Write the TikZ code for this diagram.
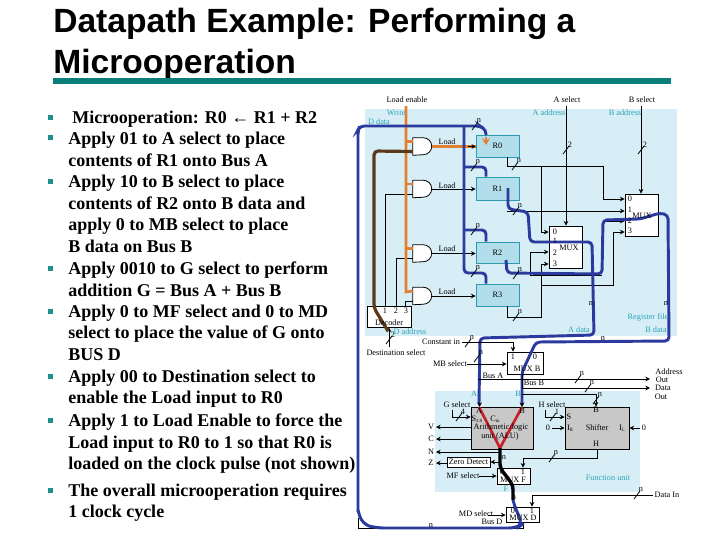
\documentclass[tikz,border=0pt]{standalone}
\usepackage{fontspec}
\setmainfont{Liberation Serif}
\newfontfamily\titlefont{Liberation Sans}
\usetikzlibrary{arrows.meta}
\definecolor{panelc}{HTML}{D8EEF6}
\definecolor{regc}{HTML}{B2DDEA}
\definecolor{regb}{HTML}{2E9AB0}
\definecolor{rulec}{HTML}{0A7F7A}
\definecolor{bullc}{HTML}{1E9090}
\definecolor{cyanc}{HTML}{2BA3B5}
\definecolor{busc}{HTML}{2B3A9E}
\definecolor{brownc}{HTML}{5A3A1A}
\definecolor{orangec}{HTML}{E08030}
\definecolor{redc}{HTML}{C8202A}
\definecolor{greyc}{HTML}{C8C8C8}
\newcommand\sbs[1]{\raisebox{-1pt}{\fontsize{3.6}{4}\selectfont #1}}
\newcommand\slashmark[4]{\draw[wire] (#2+3,#3-4) -- (#2-3,#3+4);\node[lab] (#1) at (#2+4,#3-5) {#4};}
\newcommand\andgate[3]{\node[px={19}{17}] (#1) at (#2,#3) {};
 \draw[wire,fill=white] (#1.north west) -- ++(10.5,0) arc (90:-90:6.375pt) -- (#1.south west) -- cycle;
 \coordinate (#1i1) at ([yshift=3.75pt]#1.west);
 \coordinate (#1i2) at ([yshift=-3.75pt]#1.west);}
\tikzset{
 px/.style 2 args={minimum width=#1*0.75pt,minimum height=#2*0.75pt,inner sep=0pt},
 reg/.style={draw=regb,fill=regc,line width=0.6pt,font=\fontsize{6.2}{7}\selectfont},
 blk/.style={draw=black,fill=white,line width=0.6pt},
 alu/.style={draw=black,fill=greyc,line width=0.6pt},
 lab/.style={inner sep=0pt,font=\fontsize{6.2}{7}\selectfont},
 cy/.style={lab,text=cyanc},
 wire/.style={draw=black,line width=0.6pt},
 awire/.style={wire,-{Stealth[length=3.5pt,width=3.5pt]}},
 bus/.style={draw=busc,line width=2.2pt,rounded corners=3pt},
 bodyt/.style={anchor=base west,inner sep=0pt,font=\fontsize{13.5}{15}\selectfont\bfseries},
 titlet/.style={anchor=base west,inner sep=0pt,font=\titlefont\fontsize{25.2}{28}\selectfont\bfseries},
 bull/.style={fill=bullc,draw=none,px={5}{5}},
}
\begin{document}
\begin{tikzpicture}[x=0.75pt,y=-0.75pt]
\useasboundingbox[fill=white] (0,0) rectangle (720,540);
% title
\node[titlet] (t1) at (53,32) {Datapath Example: Performing a};
\node[titlet] (t2) at (53,73) {Microoperation};
\fill[rulec] (53,78) rectangle (671,84);
% bullets
\foreach \y [count=\k] in {117,137,181,268,311,376,420,490} \node[bull] (bu\k) at (50,\y) {};
\node[bodyt] (b0) at (72,123) {Microoperation: R0 ← R1 + R2};
\foreach \y/\t [count=\k] in {
144/{Apply 01 to A select to place},
166/{contents of R1 onto Bus A},
187/{Apply 10 to B select to place},
209/{contents of R2 onto B data and},
230/{apply 0 to MB select to place},
252/{B data on Bus B},
274/{Apply 0010 to G select to perform},
296/{addition  G = Bus A + Bus B},
317/{Apply 0 to MF select and 0 to MD},
338/{select to place the value of G onto},
360/{BUS D},
382/{Apply 00 to Destination select to},
403/{enable the Load input to R0},
426/{Apply 1 to Load Enable to force the},
448/{Load input to R0 to 1 so that R0 is},
469/{loaded on the clock pulse (not shown)},
496/{The overall microoperation requires},
517/{1 clock cycle}}
 \node[bodyt] (b\k) at (68,\y) {\t};
% panels
\fill[panelc] (365,109) rectangle (677,336);
\fill[panelc] (435,391) rectangle (640,492);
% coordinates
\coordinate (lvtop) at (406,106);
\coordinate (lvbot) at (406,292);
\coordinate (dtop) at (464,126);
\coordinate (asel) at (566,106);
\coordinate (bsel) at (641,106);
\coordinate (dsel) at (389,347);
\coordinate (cin) at (462,342);
\coordinate (mbs) at (467,364);
\coordinate (mfs) at (479,476);
\coordinate (mds) at (488,515);
\coordinate (addro) at (650,379);
\coordinate (datao) at (650,388);
\coordinate (datai) at (653,495);
\coordinate (vend) at (436,427);
\coordinate (cend) at (436,439);
\coordinate (nend) at (436,452);
\coordinate (zend) at (436,463);
% boxes
\node[reg,px={43}{22}] (r0) at (497.5,146) {R0};
\node[reg,px={43}{23}] (r1) at (497.5,188.5) {R1};
\node[reg,px={43}{21}] (r2) at (497.5,252.5) {R2};
\node[reg,px={43}{22}] (r3) at (497.5,295) {R3};
\andgate{g0}{422.5}{146.5}
\andgate{g1}{422.5}{189}
\andgate{g2}{422.5}{253.5}
\andgate{g3}{422.5}{296}
\node[blk,px={44}{21}] (dec) at (389,316.5) {};
\node[blk,px={33}{42}] (m2) at (565.5,247) {};
\node[blk,px={33}{42}] (m1) at (641.5,215) {};
\node[blk,px={36}{22}] (mb) at (525,363) {};
\node[alu,px={62}{42}] (aluu) at (502,428) {};
\node[alu,px={64}{42}] (sh) at (597,428) {};
\node[blk,px={43}{10}] (zd) at (468.5,462) {};
\node[blk,px={33}{16}] (mf) at (513.5,476) {};
\node[blk,px={33}{15}] (md) at (522.5,514.5) {};
% thin wires register file
\draw[awire] (r0.south -| 507,0) -- (507,166) -- (603,166) -- (603,199) -- (m1.west |- 0,199);
\draw[awire] (541,166) -- (541,232) -- (m2.west |- 0,232);
\draw[awire] (507,211) -- (m1.west |- 0,211);
\draw[awire] (530,275) -- (530,252) -- (m2.west |- 0,252);
\draw[awire] (603,221) -- (m1.west |- 0,221);
\draw[wire] (530,275) -- (602,275);
\draw[wire] (r3.south -| 507,0) -- (507,317) -- (541,317) -- (541,264);
\draw[awire] (541,264) -- (m2.west |- 0,264);
\draw[awire] (541,285) -- (613,285) -- (613,232) -- (m1.west |- 0,232);
\draw[awire] (asel) -- (m2.north -| 566,0);
\draw[awire] (bsel) -- (m1.north -| 641,0);
\slashmark{s2a}{566}{150}{2}
\slashmark{s2b}{641}{150}{2}
\draw[wire] (dec.north -| 385,0) |- (g1i2);
\draw[wire] (dec.north -| 396,0) |- (g2i2);
\draw[wire] (dec.north -| 405,0) |- (g3i2);
\draw[awire] (dsel) -- (dec.south -| 389,0);
\slashmark{s2d}{389}{340}{2}
\draw[awire] (g1.east) -- (r1.west |- g1.east);
\draw[awire] (g2.east) -- (r2.west |- g2.east);
\draw[awire] (g3.east) -- (r3.west |- g3.east);
% load enable
\draw[orangec,line width=2pt] (lvtop) -- (lvbot) -- (g3i1);
\draw[orangec,line width=1.6pt] (g0i1 -| lvtop) -- (g0i1);
\draw[orangec,line width=1.6pt] (g1i1 -| lvtop) -- (g1i1);
\draw[orangec,line width=1.6pt] (g2i1 -| lvtop) -- (g2i1);
\draw[orangec,line width=1.8pt] (g0.east) -- (r0.west |- g0.east);
\draw[-{Stealth[length=3pt,width=3.5pt]},wire] (468,146.5) -- (r0.west |- 0,146.5);
% brown
\draw[brownc,line width=2.4pt,rounded corners=3pt] (g0i2) -- (374,151) -- (374,308) -- (388,331);
% data buses
\draw[bus] (358,512) -- (358,130) -- (360,126) -- (480,126) -- (486,130) -- (486,135);
\draw[-{Stealth[length=5pt,width=6pt]},orangec,line width=1.5pt] (486,137) -- (486,145);
\draw[bus] (dtop) -- (464,273) -- (486,273) -- (r3.north -| 486,0);
\draw[bus] (464,167) -- (486,167) -- (r1.north -| 486,0);
\draw[bus] (464,230) -- (486,230) -- (r2.north -| 486,0);
\draw[bus] (508,188) -- (508,209) -- (528,212) -- (530,242) -- (592,242) -- (594,335) -- (480,338) -- (479,403);
\draw[bus] (506,260) -- (507,273) -- (602,274) -- (603,220) -- (640,219) -- (660,213) -- (668,215) -- (669,341) -- (536,342) -- (522,372) -- (522,405);
% mux B and below
\draw[awire] (cin) -- (513,342) -- (mb.north -| 513,0);
\draw[awire] (mbs) -- (mb.west |- mbs);
\draw[awire] (478,379) -- (addro);
\draw[awire] (522,388) -- (datao);
\draw[awire] (522,394) -- (596,394) -- (sh.north -| 596,0);
\draw[wire] (522,374) -- (522,388);
\slashmark{s1}{468}{343}{n}
\slashmark{s1b}{477}{358}{n}
\slashmark{s3}{578}{379}{n}
\slashmark{s4}{588}{388}{n}
\slashmark{s5}{596}{400}{n}
% function unit
\draw[wire] (452,410) -- (452,417);
\draw[awire] (452,417) -- (aluu.west |- 0,417);
\slashmark{s6}{459}{417}{4}
\draw[wire] (545,410) -- (545,417);
\draw[awire] (545,417) -- (sh.west |- 0,417);
\slashmark{s7}{553}{417}{1}
\draw[awire] (552,428) -- (sh.west |- 0,428);
\draw[awire] (640,428) -- (sh.east |- 0,428);
\draw[awire] (aluu.west |- vend) -- (vend);
\draw[awire] (aluu.west |- cend) -- (cend);
\draw[awire] (500,452) -- (nend);
\draw[awire] (zd.west |- zend) -- (zend);
\draw[awire] (500,462) -- (zd.east);
\draw[awire] (sh.south -| 597,0) -- (597,458) -- (523,458) -- (mf.north -| 523,0);
\slashmark{s8}{552}{458}{n}
\draw[awire] (mfs) -- (mf.west);
\draw[awire] (mds) -- (md.west |- mds);
\draw[awire] (datai) -- (532,495) -- (md.north -| 532,0);
\slashmark{s9}{637}{495}{n}
\draw[wire] (md.south -| 523,0) -- (523,528) -- (358,528) -- (358,518);
% red, black, D bus
\draw[redc,line width=2pt] (479,407) -- (500,448) -- (522,407);
\draw[-{Stealth[length=3.5pt,width=3.5pt]},wire] (479.5,403) -- (479.5,407);
\draw[-{Stealth[length=3.5pt,width=3.5pt]},wire] (522,403) -- (522,407);
\draw[black,line width=2.6pt,rounded corners=3pt] (500,448) -- (500,468) -- (513,485) -- (513,500);
\draw[bus,rounded corners=6pt] (513,500) -- (515,508) -- (523,524) -- (517,528) -- (376,528) -- (362,524) -- (358,510);
% labels top
\node[lab] (lLE) at (407,100) {Load enable};
\node[lab] (lAS) at (567,100) {A select};
\node[lab] (lBS) at (642,100) {B select};
\node[cy] (lW) at (396,113) {Write};
\node[cy] (lDd) at (379,122) {D data};
\node[cy] (lAa) at (549,113) {A address};
\node[cy] (lBa) at (625,113) {B address};
\node[lab] (ll0) at (447,142) {Load};
\node[lab] (ll1) at (447,186) {Load};
\node[lab] (ll2) at (447,249) {Load};
\node[lab] (ll3) at (447,292) {Load};
\slashmark{s10}{475}{126}{n}
\slashmark{s11}{474}{167}{n}
\slashmark{s12}{474}{231}{n}
\slashmark{s13}{474}{273}{n}
\slashmark{s14}{515}{166}{n}
\slashmark{s15}{516}{211}{n}
\slashmark{s16}{516}{275}{n}
\slashmark{s17}{516}{317}{n}
\node[lab] (nr1) at (591,304) {n};
\node[lab] (nr2) at (666,304) {n};
\node[lab] (nr3) at (603,339) {n};
% mux labels
\node[lab] (a0) at (555,232) {0};
\node[lab] (a1) at (555,241) {1};
\node[lab] (a2) at (555,253) {2};
\node[lab] (a3) at (555,264) {3};
\node[lab] (am) at (569,248) {MUX};
\node[lab] (b0a) at (630,199) {0};
\node[lab] (b1a) at (630,210) {1};
\node[lab] (b2a) at (630,221) {2};
\node[lab] (b3a) at (630,231) {3};
\node[lab] (bm) at (642,216) {MUX};
\node[lab] (d1) at (385,311) {1};
\node[lab] (d2) at (396,311) {2};
\node[lab] (d3) at (406,311) {3};
\node[lab] (dl) at (389,323) {Decoder};
\node[cy] (lDa) at (410,332) {D address};
\node[lab] (lDs) at (396,353) {Destination select};
\node[cy] (lAd) at (579,330) {A data};
\node[cy] (lBd) at (656,330) {B data};
\node[cy] (lRf) at (648,317) {Register file};
\node[lab] (lCi) at (441,342) {Constant in};
\node[lab] (lMB) at (450,364) {MB select};
\node[lab] (lBA) at (493,376) {Bus A};
\node[lab] (lBB) at (534,383) {Bus B};
\node[lab] (mb1) at (513,357) {1};
\node[lab] (mb0) at (535,357) {0};
\node[lab] (mbl) at (527,369) {MUX B};
\node[lab] (lAdr) at (669,372) {Address};
\node[lab] (lOu1) at (662,380) {Out};
\node[lab] (lDat) at (663,388) {Data};
\node[lab] (lOu2) at (661,397) {Out};
\node[cy] (lA) at (474,394) {A};
\node[cy] (lB) at (518,394) {B};
\node[lab] (lGs) at (457,405) {G select};
\node[lab] (lHs) at (552,405) {H select};
\node[lab] (aA) at (479,411) {A};
\node[lab] (aB) at (522,411) {B};
\node[lab] (aS) at (477,419) {S\sbs{3:0}};
\node[lab] (aC) at (495,419) {C\sbs{in}};
\node[lab] (aT) at (501,428) {Arithmetic/logic};
\node[lab] (aU) at (500,437) {unit (ALU)};
\node[lab] (lV) at (431,427) {V};
\node[lab] (lC) at (431,439) {C};
\node[lab] (lN) at (431,452) {N};
\node[lab] (lZ) at (431,463) {Z};
\node[lab] (zl) at (468.5,462) {Zero Detect};
\node[lab] (nD) at (504,458) {n};
\node[lab] (mf0) at (502,472) {0};
\node[lab] (mf1) at (523,472) {1};
\node[lab] (mfl) at (513,480) {MUX F};
\node[cy] (lF) at (506,489) {F};
\node[lab] (lMF) at (463,476) {MF select};
\node[lab] (nE) at (514,498) {n};
\node[lab] (md0) at (513,511) {0};
\node[lab] (md1) at (532,511) {1};
\node[lab] (mdl) at (523,518) {MUX D};
\node[lab] (lBD) at (492,522) {Bus D};
\node[lab] (lMD) at (476,514) {MD select};
\node[lab] (nF) at (431,526) {n};
\node[lab] (sB) at (596,410) {B};
\node[lab] (sS) at (569,417) {S};
\node[lab] (sIR) at (570,428) {I\sbs{R}};
\node[lab] (sT) at (597,428) {Shifter};
\node[lab] (sIL) at (622,428) {I\sbs{L}};
\node[lab] (sH) at (596,444) {H};
\node[lab] (lz1) at (548,428) {0};
\node[lab] (lz2) at (644,428) {0};
\node[cy] (lFu) at (608,478) {Function unit};
\node[lab] (lDi) at (667,495) {Data In};
\end{tikzpicture}
\end{document}
